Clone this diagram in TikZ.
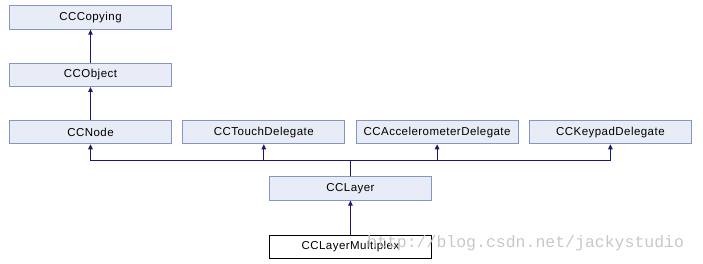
\documentclass[tikz,border=0pt]{standalone}
\usepackage{fontspec}
\newfontfamily\dxfont[LetterSpace=4]{Liberation Sans}
\newfontfamily\wmfont{Liberation Mono}
\usetikzlibrary{positioning,arrows.meta}
\definecolor{boxfill}{HTML}{E8ECF6}
\definecolor{boxline}{HTML}{8497C4}
\definecolor{edgeblue}{HTML}{191970}
\definecolor{markgray}{HTML}{C8C8C8}

\begin{document}
\begin{tikzpicture}[x=1pt,y=-1pt,
			>={Triangle[length=5pt,width=4.5pt]},
			node distance=33pt and 10.5pt,
			class/.style={
				draw=boxline,
				fill=boxfill,
				line width=0.8pt,
				minimum width=162pt,
				minimum height=23.5pt,
				inner sep=0pt,
				font=\dxfont\fontsize{11.5}{13}\selectfont},
			leaf/.style={class,draw=black,fill=white},
			inherit/.style={->,draw=edgeblue,line width=0.9pt}]
			
			\useasboundingbox (0,0) rectangle (703,263);
			
			\node[class] (copying) at (90.5,17.5){CCCopying};
			
			\node[class] (object)[below=of copying]{CCObject};
			
			\node[class] (ccnode)[below=of object]{CCNode};
			
			\node[class] (touch)[right=of ccnode]{CCTouchDelegate};
			
			\node[class] (accel)[right=of touch]{CCAccelerometerDelegate};
			
			\node[class] (keypad)[right=of accel]{CCKeypadDelegate};
			
			\node[class] (layer)[below=32pt of touch.south east,xshift=5.25pt]{CCLayer};
			
			\node[leaf] (multiplex)[below=34pt of layer]{CCLayerMultiplex};
			
			% blog address printed over the lower right corner
			\node[text=markgray,font=\wmfont\fontsize{16.5}{18}\selectfont,
				anchor=base west,inner sep=0pt] (mark) at (367,247){http://blog.csdn.net/jackystudio};
			
			\coordinate (bus) at ([yshift=16pt]layer.north);
			
			\draw[inherit](object)--(copying);
			
			\draw[inherit](ccnode)--(object);
			
			\foreach \base in {ccnode,touch,accel,keypad}
				\draw[inherit](layer.north)--(bus)-|(\base.south);
			
			\draw[inherit](multiplex)--(layer);
			
		\end{tikzpicture}
\end{document}
